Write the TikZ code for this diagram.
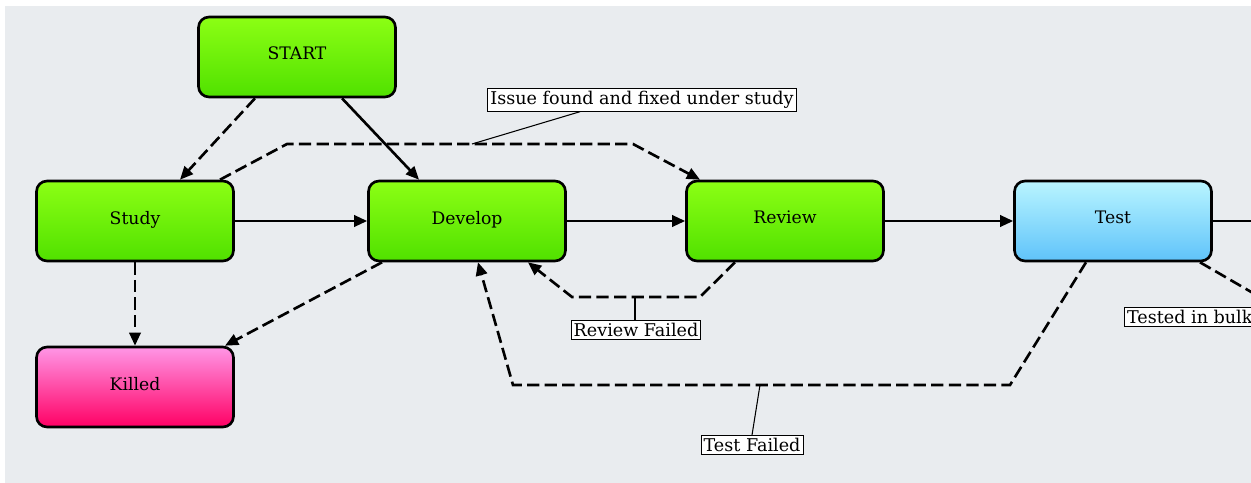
\documentclass[tikz,border=0pt]{standalone}
\usepackage{fontspec}
\setmainfont{DejaVu Serif}
\usetikzlibrary{arrows.meta,calc}
\definecolor{bg}{RGB}{233,236,239}
\definecolor{gtop}{RGB}{140,255,20}
\definecolor{gbot}{RGB}{80,225,0}
\definecolor{ttop}{RGB}{185,245,255}
\definecolor{tbot}{RGB}{95,195,250}
\definecolor{ktop}{RGB}{255,150,230}
\definecolor{kbot}{RGB}{255,0,100}
\begin{document}
\begin{tikzpicture}[x=0.02cm,y=-0.02cm,
  box/.style={draw=black, line width=1.5pt, rounded corners=6pt, minimum width=3.94cm, minimum height=1.6cm, font=\fontsize{9.8}{11}\selectfont},
  greenbox/.style={top color=gtop, bottom color=gbot},
  testbox/.style={top color=ttop, bottom color=tbot},
  killbox/.style={top color=ktop, bottom color=kbot},
  conn/.style={line width=1.5pt, -{Triangle[length=7.5pt,width=6.5pt]}},
  plain/.style={line width=1.5pt},
  dsh/.style={dash pattern=on 7pt off 3pt},
  lbl/.style={draw=black, fill=white, line width=0.5pt, inner sep=1.5pt, font=\fontsize{10}{12}\selectfont},
  lead/.style={line width=0.6pt}
]
\useasboundingbox (0,0) rectangle (1251,483);
\clip (0,0) rectangle (1251,483);
\fill[white] (0,0) rectangle (1251,483);
\fill[bg] (5,6) rectangle (1251,483);

\node[box, greenbox] (start) at (297,57) {\raisebox{4pt}{START}};
\node[box, greenbox] (study) at (135,221) {\raisebox{4pt}{Study}};
\node[box, greenbox] (develop) at (467,221) {\raisebox{4pt}{Develop}};
\node[box, greenbox] (review) at (785,221) {\raisebox{4pt}{Review}};
\node[box, testbox] (test) at (1113,221) {\raisebox{4pt}{Test}};
\node[box, killbox] (killed) at (135,387) {\raisebox{4pt}{Killed}};

\node[lbl] (issue) at (642,100) {Issue found and fixed under study};
\node[lbl] (rfail) at (636,330) {Review Failed};
\node[lbl] (tfail) at (752,445) {Test Failed};
\node[lbl, anchor=west] (bulk) at (1124,317) {Tested in bulk};

\coordinate (sr1) at (287,144);
\coordinate (sr2) at (633,144);
\coordinate (rf1) at (700,297);
\coordinate (rf2) at (572,297);
\coordinate (tf1) at (1010,385);
\coordinate (tf2) at (513,385);
\coordinate (out1) at (1265,221);
\coordinate (out2) at (1265,300);
\coordinate (il) at (472,144);
\coordinate (rl) at (635,297);
\coordinate (tl) at (760,385);

% solid connectors
\draw[conn] ($(start.south)+(45,0)$) -- ($(develop.north)+(-48,0)$);
\draw[conn] (study.east) -- (develop.west);
\draw[conn] (develop.east) -- (review.west);
\draw[conn] (review.east) -- (test.west);
\draw[plain] (test.east) -- (out1);

% dashed connectors
\draw[conn,dsh] ($(start.south)+(-42,0)$) -- ($(study.north)+(45,0)$);
\draw[conn,dsh] ($(study.north)+(85,0)$) -- (sr1) -- (sr2) -- ($(review.north)+(-85,0)$);
\draw[conn,dsh] ($(review.south)+(-50,0)$) -- (rf1) -- (rf2) -- ($(develop.south)+(61,0)$);
\draw[conn,dsh] ($(test.south)+(-27,0)$) -- (tf1) -- (tf2) -- ($(develop.south)+(11,0)$);
\draw[plain,dsh] ($(test.south)+(87,0)$) -- (out2);
\draw[conn,dsh] (study.south) -- (killed.north);
\draw[conn,dsh] ($(develop.south)+(-85,0)$) -- ($(killed.north)+(90,0)$);

% label leaders
\draw[lead] ($(issue.south)+(-62,0)$) -- (il);
\draw[lead] (rl) -- (rfail.north -| rl);
\draw[lead] (tl) -- ($(tfail.north)+(0,0)$);
\end{tikzpicture}
\end{document}
